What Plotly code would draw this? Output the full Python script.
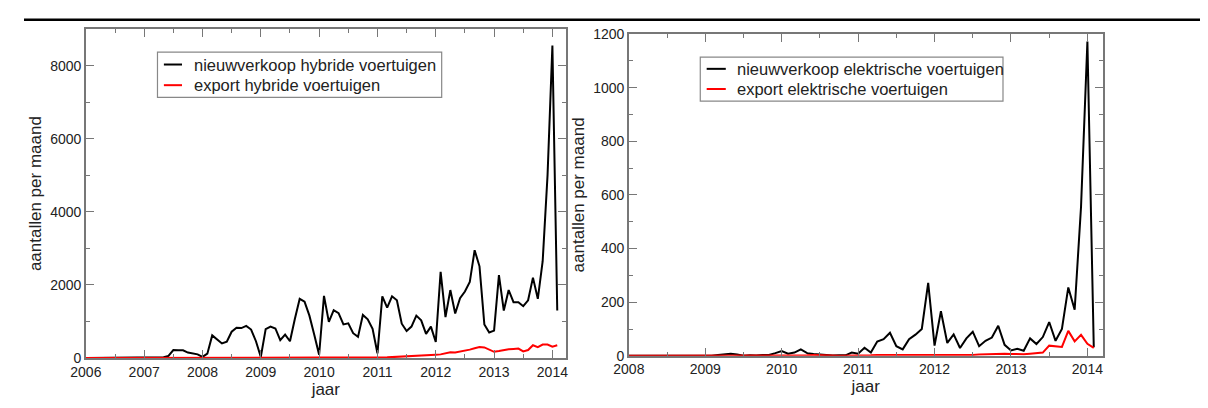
import pandas as pd
import plotly.graph_objects as go
from plotly.subplots import make_subplots

# maandelijkse aantallen, hybride: jan 2006 t/m feb 2014
hybride_nieuw = [0] * 16 + [
    20, 60, 220, 210, 210, 150, 120, 100,
    30, 120, 620, 510, 400, 450, 720, 830, 820, 880, 780, 460,
    30, 790, 860, 810, 490, 640, 460, 1070, 1620, 1540, 1160, 640,
    90, 1700, 990, 1310, 1230, 920, 950, 680, 580, 1180, 1060, 800,
    130, 1690, 1380, 1690, 1580, 940, 740, 860, 1160, 1030, 660, 860,
    440, 2360, 1120, 1860, 1220, 1640, 1820, 2080, 2950, 2510, 920, 700,
    750, 2270, 1300, 1860, 1530, 1530, 1420, 1580, 2200, 1620, 2650, 5000,
    8550, 1300]
hybride_export = [0] * 24 + [3] * 36 + [
    10, 15, 20, 25, 30, 40, 45, 55, 65, 70, 80, 85,
    90, 100, 140, 160, 150, 170, 200, 230, 270, 300, 290, 240,
    170, 190, 220, 240, 250, 260, 180, 220, 350, 300, 370, 370,
    310, 350]

# elektrisch: jan 2008 t/m feb 2014
elek_nieuw = [0] * 14 + [
    3, 6, 8, 5, 0, 2, 1, 3, 3, 10,
    18, 8, 12, 24, 10, 7, 5, 2, 1, 2, 2, 12,
    8, 30, 12, 53, 62, 86, 36, 24, 62, 79, 100, 272,
    38, 166, 48, 80, 29, 65, 90, 36, 56, 68, 112, 41,
    20, 26, 19, 65, 44, 70, 126, 56, 100, 255, 172, 556,
    1172, 32]
elek_export = [0] * 24 + [
    0, 0, 0, 1, 2, 3, 3, 2, 1, 0, 0, 0,
    1, 1, 2, 3, 3, 1, 2, 2, 2, 3, 3, 2,
    2, 2, 2, 3, 3, 3, 3, 5, 6, 8, 8, 8,
    7, 6, 6, 8, 10, 12, 38, 36, 33, 93, 54, 78,
    45, 30]

legenda_links = ["nieuwverkoop hybride voertuigen", "export hybride voertuigen"]
legenda_rechts = ["nieuwverkoop elektrische voertuigen", "export elektrische voertuigen"]
kleuren = ["black", "#ff0000"]


def jaren(start, n):
    d = pd.date_range(start, periods=n, freq="MS")
    return list(d.year + (d.month - 1) / 12)


t_h = jaren("2006-01-01", len(hybride_nieuw))
t_e = jaren("2008-01-01", len(elek_nieuw))

W, H = 1208, 408
OFF = 8  # body-marge van de html-pagina


def px(x):
    return (x - OFF) / W


def py(y):
    return 1 - (y - OFF) / H


fig = make_subplots(rows=1, cols=2)
for y, naam, kl in zip([hybride_nieuw, hybride_export], legenda_links, kleuren):
    fig.add_trace(go.Scatter(x=t_h, y=y, mode="lines", name=naam, showlegend=False,
                             line=dict(color=kl, width=2)), 1, 1)
for y, naam, kl in zip([elek_nieuw, elek_export], legenda_rechts, kleuren):
    fig.add_trace(go.Scatter(x=t_e, y=y, mode="lines", name=naam, showlegend=False,
                             line=dict(color=kl, width=2)), 1, 2)

font = "Liberation Sans, Arial, sans-serif"
frame = "#777777"
as_stijl = dict(showline=True, linecolor=frame, linewidth=1.5, mirror="allticks", ticks="inside",
                ticklen=8, tickcolor=frame, tickwidth=1, showgrid=False, zeroline=False,
                tickfont=dict(size=14, color="#222", family=font))

fig.update_xaxes(**as_stijl, dtick=1, tickformat="d",
                 minor=dict(ticks="inside", ticklen=4, tickcolor=frame, dtick=0.5),
                 title=dict(text="jaar", font=dict(size=17, family=font, color="#222"), standoff=0))
fig.update_yaxes(**as_stijl, title=dict(text="aantallen per maand", font=dict(size=17, family=font, color="#222"),
                                        standoff=4))

fig.update_xaxes(range=[2006, 2014.23], domain=[px(70.8), px(558)], row=1, col=1)
fig.update_yaxes(range=[0, 9000], dtick=2000, minor=dict(ticks="inside", ticklen=4, tickcolor=frame, dtick=1000),
                 domain=[py(364), py(21.7)], row=1, col=1)
fig.update_xaxes(range=[2008, 2014.2], domain=[px(622), px(1103)], row=1, col=2)
fig.update_yaxes(range=[0, 1200], dtick=200, minor=dict(ticks="inside", ticklen=4, tickcolor=frame, dtick=100),
                 domain=[py(361.7), py(26.7)], row=1, col=2)

fig.update_layout(width=W, height=H, margin=dict(l=0, r=0, t=0, b=0),
                  paper_bgcolor="white", plot_bgcolor="white")

# legenda's als kader met lijnstukjes en tekst
for (x0, y0, x1, y1), lx, tx, rijen, namen in [
        ((143.5, 45.7, 432, 92.7), (150, 168.4), 179, (58.5, 80), legenda_links),
        ((694.5, 50.7, 1001.8, 96.7), (701, 720.4), 730, (63, 84), legenda_rechts)]:
    fig.add_shape(type="rect", xref="paper", yref="paper", x0=px(x0), x1=px(x1), y0=py(y1), y1=py(y0),
                  line=dict(color="#888", width=1.2), fillcolor="white", layer="above")
    for ry, naam, kl in zip(rijen, namen, kleuren):
        fig.add_shape(type="line", xref="paper", yref="paper", x0=px(lx[0]), x1=px(lx[1]), y0=py(ry), y1=py(ry),
                      line=dict(color=kl, width=2), layer="above")
        fig.add_annotation(text=naam, xref="paper", yref="paper", x=px(tx), y=py(ry), xanchor="left",
                           yanchor="middle", showarrow=False, font=dict(size=16.5, family=font, color="#222"))

# zwarte lijn bovenaan
fig.add_shape(type="line", xref="paper", yref="paper", x0=0, x1=1, y0=py(12), y1=py(12),
              line=dict(color="black", width=2.5))

fig.write_html("out.html", config={"displayModeBar": False})
